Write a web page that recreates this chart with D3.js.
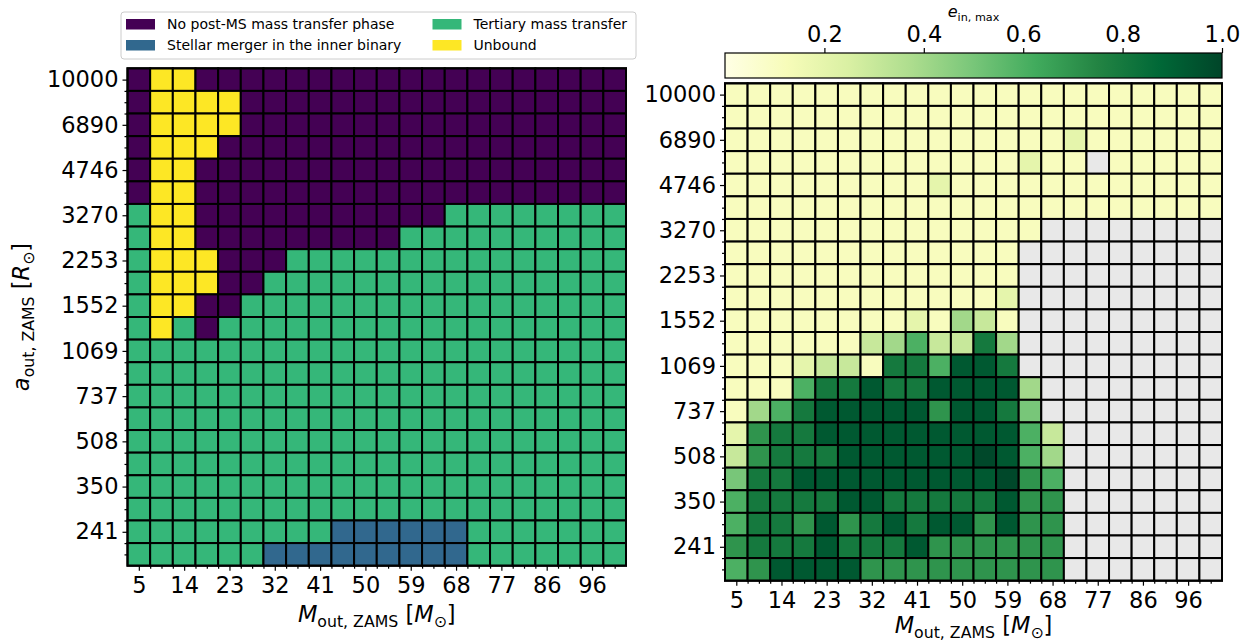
<!DOCTYPE html>
<html><head><meta charset="utf-8">
<script src="https://cdn.jsdelivr.net/npm/d3@7"></script>
<style>
body{margin:0;background:#fff;}
svg{display:block;font-family:"DejaVu Sans",sans-serif;}
</style></head><body>
<svg id="chart" width="1249" height="644"></svg>
<script>
// ---------- DATA ----------
// outer star mass grid (columns) [Msun]
const masses = [5.00, 9.52, 14.05, 18.57, 23.10, 27.62, 32.14, 36.67, 41.19, 45.71, 50.24,
                54.76, 59.29, 63.81, 68.33, 72.86, 77.38, 81.90, 86.43, 90.95, 95.48, 100.00];
// outer separation grid (rows, top to bottom) [Rsun]
const aOut = [10000, 8300, 6890, 5719, 4746, 3940, 3270, 2714, 2253, 1870, 1552,
              1289, 1069, 888, 737, 612, 508, 421, 350, 290, 241, 200];
const xTickLabels = ["5","14","23","32","41","50","59","68","77","86","96"];
const yTickLabels = ["10000","6890","4746","3270","2253","1552","1069","737","508","350","241"];
const cbarTicks = [0.2, 0.4, 0.6, 0.8, 1.0];

// outcome categories: N = no post-MS MT, M = merger in inner binary, T = tertiary MT, U = unbound
const outcomeNames = {
  N: "No post-MS mass transfer phase",
  M: "Stellar merger in the inner binary",
  T: "Tertiary mass transfer",
  U: "Unbound"
};
const outcomeColors = {N: "#440154", M: "#31688e", T: "#35b779", U: "#fde725"};
const outcomeRows = [
  "NUUNNNNNNNNNNNNNNNNNNN",
  "NUUUUNNNNNNNNNNNNNNNNN",
  "NUUUUNNNNNNNNNNNNNNNNN",
  "NUUUNNNNNNNNNNNNNNNNNN",
  "NUUNNNNNNNNNNNNNNNNNNN",
  "NUUNNNNNNNNNNNNNNNNNNN",
  "TUUNNNNNNNNNNNTTTTTTTT",
  "TUUNNNNNNNNNTTTTTTTTTT",
  "TUUUNNNTTTTTTTTTTTTTTT",
  "TUUUNNTTTTTTTTTTTTTTTT",
  "TUUNNTTTTTTTTTTTTTTTTT",
  "TUTNTTTTTTTTTTTTTTTTTT",
  "TTTTTTTTTTTTTTTTTTTTTT",
  "TTTTTTTTTTTTTTTTTTTTTT",
  "TTTTTTTTTTTTTTTTTTTTTT",
  "TTTTTTTTTTTTTTTTTTTTTT",
  "TTTTTTTTTTTTTTTTTTTTTT",
  "TTTTTTTTTTTTTTTTTTTTTT",
  "TTTTTTTTTTTTTTTTTTTTTT",
  "TTTTTTTTTTTTTTTTTTTTTT",
  "TTTTTTTTTMMMMMMTTTTTTT",
  "TTTTTTMMMMMMMMMTTTTTTT"
];
const legendOrder = ["N", "M", "T", "U"];

// maximum inner eccentricity (null = no value, grey)
const _ = null;
const eMaxRows = [
  [.11,.11,.11,.11,.11,.11,.11,.11,.11,.11,.11,.11,.11,.11,.11,.11,.11,.11,.11,.11,.11,.11],
  [.11,.11,.11,.11,.11,.11,.11,.11,.11,.11,.11,.11,.11,.11,.11,.11,.11,.11,.11,.11,.11,.11],
  [.11,.11,.11,.11,.11,.11,.11,.11,.11,.11,.11,.11,.11,.11,.11,.2,.11,.11,.11,.11,.11,.11],
  [.11,.11,.11,.11,.11,.11,.11,.11,.11,.11,.11,.11,.11,.2,.11,.11,_,.11,.11,.11,.11,.11],
  [.11,.11,.11,.11,.11,.11,.11,.11,.11,.2,.11,.11,.11,.11,.11,.11,.11,.11,.11,.11,.11,.11],
  [.11,.11,.11,.11,.11,.11,.11,.11,.11,.11,.11,.11,.11,.11,.11,.11,.11,.11,.11,.11,.11,.11],
  [.11,.11,.11,.11,.11,.11,.11,.11,.11,.11,.11,.11,.11,.11,_,_,_,_,_,_,_,_],
  [.11,.11,.11,.11,.11,.11,.11,.11,.11,.11,.11,.11,.11,_,_,_,_,_,_,_,_,_],
  [.11,.11,.11,.11,.11,.11,.11,.11,.11,.11,.11,.11,.11,_,_,_,_,_,_,_,_,_],
  [.11,.11,.11,.11,.11,.11,.11,.11,.11,.11,.11,.11,.2,_,_,_,_,_,_,_,_,_],
  [.11,.11,.11,.11,.11,.11,.11,.11,.2,.11,.4,.3,.11,_,_,_,_,_,_,_,_,_],
  [.11,.11,.11,.11,.11,.11,.3,.4,.6,.3,.3,.8,.4,_,_,_,_,_,_,_,_,_],
  [.11,.11,.11,.2,.3,.3,.11,.8,.8,.6,.93,.93,.8,_,_,_,_,_,_,_,_,_],
  [.11,.11,.11,.6,.8,.8,.93,.8,.8,.93,.93,.93,.93,.4,_,_,_,_,_,_,_,_],
  [.11,.4,.6,.8,.93,.93,.93,.93,.93,.7,.93,.93,.8,.5,_,_,_,_,_,_,_,_],
  [.2,.7,.8,.8,.93,.93,.93,.93,.93,.93,.93,.93,.93,.6,.3,_,_,_,_,_,_,_],
  [.3,.7,.8,.8,.8,.93,.93,.93,.93,.93,.93,.99,.93,.6,.4,_,_,_,_,_,_,_],
  [.5,.8,.8,.93,.93,.93,.93,.93,.93,.93,.93,.93,.99,.7,.6,_,_,_,_,_,_,_],
  [.6,.8,.8,.8,.8,.93,.93,.8,.8,.8,.8,.8,.93,.7,.7,_,_,_,_,_,_,_],
  [.6,.8,.8,.7,.93,.7,.8,.93,.8,.93,.93,.7,.93,.7,.7,_,_,_,_,_,_,_],
  [.7,.8,.8,.8,.93,.8,.8,.8,.93,.7,.7,.7,.7,.7,.7,_,_,_,_,_,_,_],
  [.6,.7,.93,.93,.93,.93,.7,.7,.7,.7,.7,.7,.7,.7,.7,_,_,_,_,_,_,_]
];
// matplotlib YlGn colour stops
const ylgnStops = ["#ffffe5","#f7fcb9","#d9f0a3","#addd8e","#78c679","#41ab5d","#238443","#006837","#004529"];
const nanColor = "#e8e8e8";

// ---------- DRAWING ----------
const svg = d3.select("#chart");
const FS = 22.5;
const eColor = d3.scaleLinear()
  .domain(ylgnStops.map((c, i) => i / (ylgnStops.length - 1)))
  .range(ylgnStops).interpolate(d3.interpolateRgb).clamp(true);

function mathText(parent, parts, fs) {
  const t = parent.append("text").attr("font-size", fs).attr("fill", "#000");
  let shift = 0;
  parts.forEach(p => {
    const target = p.sub ? fs * 0.22 : 0;
    const ts = t.append("tspan").text(p.t).attr("dy", target - shift);
    shift = target;
    if (p.sub) ts.attr("font-size", fs * 0.7);
    if (p.it) ts.attr("font-style", "italic");
  });
  return t;
}

function drawPanel(p, fillOf, showYLabel) {
  const x = d3.scaleLinear().domain([-0.5, masses.length - 0.5]).range([p.x0, p.x0 + p.w]);
  const y = d3.scaleLinear().domain([-0.5, aOut.length - 0.5]).range([p.y0, p.y0 + p.h]);
  const g = svg.append("g");
  const cells = [];
  aOut.forEach((a, r) => masses.forEach((m, c) => cells.push({r, c})));
  g.selectAll("rect.cell").data(cells).join("rect")
    .attr("class", "cell")
    .attr("x", d => x(d.c - 0.5)).attr("y", d => y(d.r - 0.5))
    .attr("width", d => x(d.c + 0.5) - x(d.c - 0.5))
    .attr("height", d => y(d.r + 0.5) - y(d.r - 0.5))
    .attr("fill", d => fillOf(d.r, d.c))
    .attr("stroke", "#000").attr("stroke-width", 2);
  g.append("rect").attr("x", p.x0).attr("y", p.y0).attr("width", p.w).attr("height", p.h)
    .attr("fill", "none").attr("stroke", "#000").attr("stroke-width", 2);

  const majorX = d3.range(0, masses.length, 2);
  const minorX = d3.range(-0.5, masses.length, 0.5).filter(v => !majorX.includes(v) && v > -0.5 && v < masses.length - 0.5);
  const majorY = d3.range(0, aOut.length, 2);
  const minorY = d3.range(-0.5, aOut.length, 0.5).filter(v => !majorY.includes(v) && v > -0.5 && v < aOut.length - 0.5);

  const axes = [
    g.append("g").attr("transform", `translate(0,${p.y0 + p.h})`)
      .call(d3.axisBottom(x).tickValues(majorX).tickFormat(i => xTickLabels[i / 2]).tickSize(5).tickPadding(6)),
    g.append("g").attr("transform", `translate(0,${p.y0 + p.h})`)
      .call(d3.axisBottom(x).tickValues(minorX).tickFormat("").tickSize(3)),
    g.append("g").attr("transform", `translate(${p.x0},0)`)
      .call(d3.axisLeft(y).tickValues(majorY).tickFormat(i => yTickLabels[i / 2]).tickSize(5).tickPadding(4)),
    g.append("g").attr("transform", `translate(${p.x0},0)`)
      .call(d3.axisLeft(y).tickValues(minorY).tickFormat("").tickSize(3))
  ];
  axes.forEach(a => {
    a.select(".domain").remove();
    a.attr("font-size", FS).attr("font-family", "DejaVu Sans");
    a.selectAll("line").attr("stroke", "#000").attr("stroke-width", 1.2);
    a.selectAll("text").attr("fill", "#000");
  });

  mathText(g, [{t: "M", it: 1}, {t: "out, ZAMS", sub: 1}, {t: " ["}, {t: "M", it: 1}, {t: "⊙", sub: 1}, {t: "]"}], FS)
    .attr("text-anchor", "middle").attr("x", p.x0 + p.w / 2).attr("y", p.y0 + p.h + p.xlabOff);
  if (showYLabel) {
    mathText(g, [{t: "a", it: 1}, {t: "out, ZAMS", sub: 1}, {t: " ["}, {t: "R", it: 1}, {t: "⊙", sub: 1}, {t: "]"}], FS)
      .attr("text-anchor", "middle")
      .attr("transform", `translate(29,${p.y0 + p.h / 2}) rotate(-90)`);
  }
}

// Left panel: outcomes
drawPanel({x0: 127.5, y0: 68.3, w: 498.5, h: 497.4, xlabOff: 56},
  (r, c) => outcomeColors[outcomeRows[r][c]], true);

// Right panel: e_in,max
drawPanel({x0: 725, y0: 83.3, w: 497, h: 497.4, xlabOff: 52},
  (r, c) => eMaxRows[r][c] === null ? nanColor : eColor(eMaxRows[r][c]), false);

// Legend
const lg = svg.append("g");
lg.append("rect").attr("x", 121).attr("y", 12).attr("width", 515).attr("height", 47)
  .attr("rx", 3).attr("fill", "#fff").attr("fill-opacity", 0.8).attr("stroke", "#cccccc").attr("stroke-width", 1);
legendOrder.forEach((k, i) => {
  const col = Math.floor(i / 2), row = i % 2;
  const lx = col === 0 ? 126 : 432.5, ly = 19 + row * 21;
  lg.append("rect").attr("x", lx).attr("y", ly).attr("width", 29).attr("height", 10.5).attr("fill", outcomeColors[k]);
  lg.append("text").attr("x", lx + 41).attr("y", ly + 10).attr("font-size", 14).attr("fill", "#000").text(outcomeNames[k]);
});

// Colorbar
const cb = {x0: 725, x1: 1222, y0: 53, y1: 78};
const defs = svg.append("defs");
const grad = defs.append("linearGradient").attr("id", "ylgn").attr("x1", "0%").attr("x2", "100%");
ylgnStops.forEach((c, i) => grad.append("stop").attr("offset", (i / (ylgnStops.length - 1) * 100) + "%").attr("stop-color", c));
const cx = d3.scaleLinear().domain([0, 1]).range([cb.x0, cb.x1]);
svg.append("rect").attr("x", cb.x0).attr("y", cb.y0).attr("width", cb.x1 - cb.x0).attr("height", cb.y1 - cb.y0)
  .attr("fill", "url(#ylgn)").attr("stroke", "#000").attr("stroke-width", 1.2);
const cba = svg.append("g").attr("transform", `translate(0,${cb.y0})`)
  .call(d3.axisTop(cx).tickValues(cbarTicks).tickFormat(d3.format(".1f")).tickSize(5).tickPadding(6));
cba.select(".domain").remove();
cba.attr("font-size", FS).attr("font-family", "DejaVu Sans");
cba.selectAll("line").attr("stroke", "#000").attr("stroke-width", 1.2);
cba.selectAll("text").attr("fill", "#000");
mathText(svg, [{t: "e", it: 1}, {t: "in, max", sub: 1}], 16)
  .attr("text-anchor", "middle").attr("x", (cb.x0 + cb.x1) / 2).attr("y", 17);
</script>
</body></html>
